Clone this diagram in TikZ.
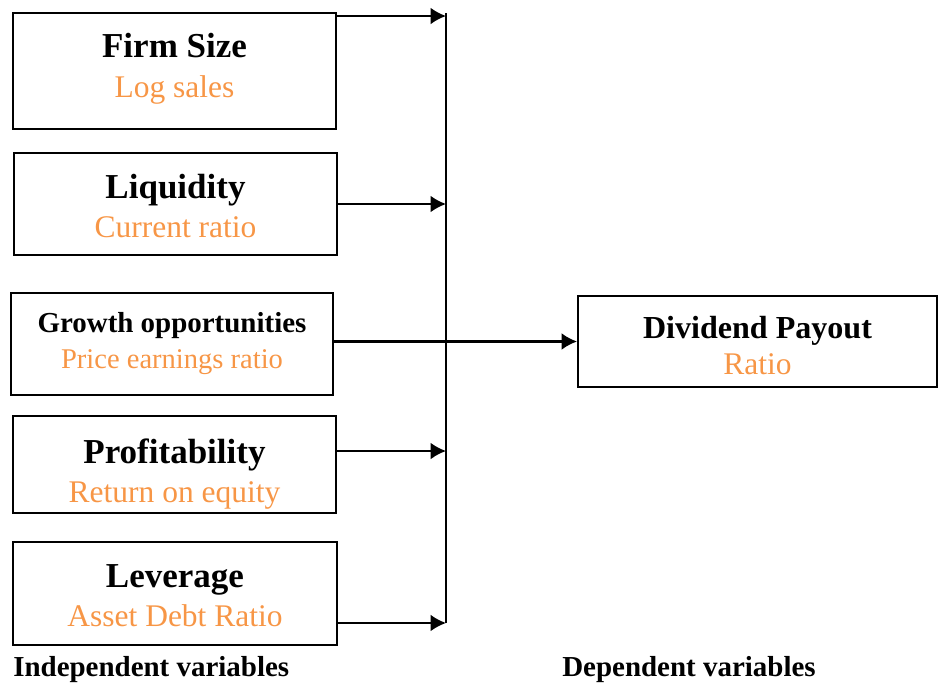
\documentclass[tikz,border=0pt]{standalone}
\usepackage{fontspec}
\setmainfont{Liberation Serif}
\usetikzlibrary{arrows.meta}
\definecolor{subcol}{RGB}{247,150,70}
\newcommand{\subtext}[1]{{\color{subcol}\fontsize{22.4}{28}\selectfont\mdseries #1}}

\begin{document}
\begin{tikzpicture}[
    varbox/.style={draw, line width=1.4pt, inner sep=0pt},
    vartext/.style={align=center, inner sep=0pt},
    bigtitle/.style={font=\fontsize{24.9}{28}\selectfont\bfseries},
    link/.style={line width=1.5pt, -{Latex[length=11pt,width=12pt]}}
]
        \useasboundingbox (0,0) rectangle (23.45,17.05);

        % Independent variables
        \node[varbox, minimum width=8.075cm, minimum height=2.9cm] (size) at (4.3625,15.275) {};
        \node[vartext, bigtitle] (size-t) at ([yshift=0.06cm]size.center)
            {Firm Size\\ \subtext{Log sales}};
        \node[varbox, minimum width=8.075cm, minimum height=2.55cm] (liq) at (4.3875,11.95) {};
        \node[vartext, bigtitle] (liq-t) at ([yshift=-0.05cm]liq.center)
            {Liquidity\\ \subtext{Current ratio}};
        \node[varbox, minimum width=8.05cm, minimum height=2.55cm] (growth) at (4.3,8.45) {};
        \node[vartext, font=\fontsize{20.6}{25.6}\selectfont\bfseries] (growth-t) at (growth.center)
            {Growth opportunities\\ {\color{subcol}\fontsize{20.3}{25.6}\selectfont\mdseries Price earnings ratio}};
        \node[varbox, minimum width=8.075cm, minimum height=2.425cm] (profit) at (4.3625,5.4375) {};
        \node[vartext, bigtitle] (profit-t) at ([yshift=-0.24cm]profit.center)
            {Profitability\\ \subtext{Return on equity}};
        \node[varbox, minimum width=8.1cm, minimum height=2.575cm] (lev) at (4.375,2.2125) {};
        \node[vartext, bigtitle] (lev-t) at ([yshift=-0.06cm]lev.center)
            {Leverage\\ \subtext{Asset Debt Ratio}};

        % Dependent variable
        \node[varbox, minimum width=8.975cm, minimum height=2.275cm] (payout) at (18.9375,8.5125) {};
        \node[vartext, font=\fontsize{22.8}{25.6}\selectfont\bfseries] (payout-t) at ([yshift=-0.1cm]payout.center)
            {Dividend Payout\\ {\color{subcol}\fontsize{22.4}{25.6}\selectfont\mdseries Ratio}};

        % Captions
        \node[anchor=west, inner sep=0pt, font=\fontsize{20.6}{24}\selectfont\bfseries] (indep) at (0.325,0.3) {Independent variables};
        \node[anchor=west, inner sep=0pt, font=\fontsize{20.6}{24}\selectfont\bfseries] (dep) at (14.05,0.3) {Dependent variables};

        % Connectors
        \coordinate (top) at (11.15,16.7125);
        \coordinate (s1) at ([yshift=-0.1cm]size.north east);
        \coordinate (s4) at ([yshift=-0.9cm]profit.north east);
        \coordinate (s5) at ([yshift=0.575cm]lev.south east);
        \draw[line width=1.5pt] (top) -- (s5 -| top);
        \draw[link] (s1) -- (s1 -| top);
        \draw[link] (liq.east) -- (liq.east -| top);
        \draw[link] (payout.west -| growth.east) -- (payout.west);
        \draw[link] (s4) -- (s4 -| top);
        \draw[link] (s5) -- (s5 -| top);
\end{tikzpicture}
\end{document}
